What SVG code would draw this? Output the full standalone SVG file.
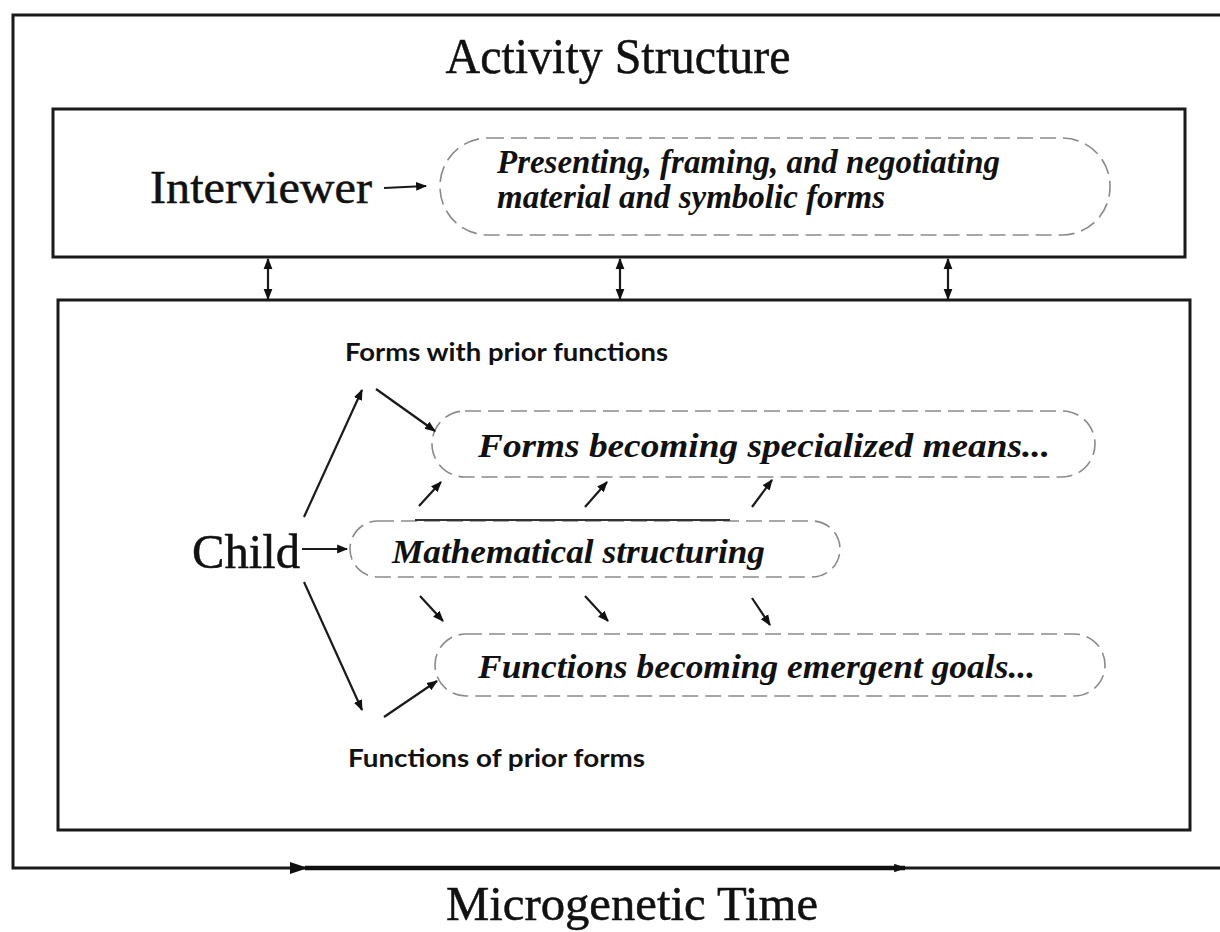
<svg xmlns="http://www.w3.org/2000/svg" width="1220" height="932" viewBox="0 0 1220 932">
<style>
.frame{fill:none;stroke:#1a1a1a;stroke-width:3}
.conn{fill:none;stroke:#1a1a1a;stroke-width:2.2}
.oval{fill:none;stroke:#8a8a8a;stroke-width:1.6;stroke-dasharray:16 7}
.serif{font-family:"Liberation Serif","Times New Roman",serif;fill:#111;stroke:#111;stroke-width:0.5}
.it{font-family:"Liberation Serif","Times New Roman",serif;font-style:italic;font-weight:bold;fill:#111}
.sans{font-family:"Lato","Open Sans","Liberation Sans",sans-serif;font-weight:bold;fill:#111}
</style>
<defs>
<marker id="ah" viewBox="0 0 10 10" refX="9" refY="5" markerWidth="11" markerHeight="11" orient="auto-start-reverse" markerUnits="userSpaceOnUse">
<path d="M0,1 L10,5 L0,9 z" fill="#111"/>
</marker>
<marker id="ahs" viewBox="0 0 10 10" refX="9" refY="5" markerWidth="12" markerHeight="12" orient="auto-start-reverse" markerUnits="userSpaceOnUse">
<path d="M0,1.5 L10,5 L0,8.5 z" fill="#111"/>
</marker>
</defs>

<g id="activity-structure">
<path class="frame" d="M1220,15 H13 V868 H1220"/>
<text class="serif" x="618" y="73" font-size="50" text-anchor="middle" textLength="345" lengthAdjust="spacingAndGlyphs">Activity Structure</text>
</g>

<g id="interviewer-box">
<rect class="frame" x="53" y="109" width="1132" height="148"/>
<text class="serif" x="150" y="203" font-size="46" textLength="222" lengthAdjust="spacingAndGlyphs">Interviewer</text>
</g>

<g id="interviewer-oval">
<rect class="oval" x="440" y="138" width="670" height="97" rx="48" ry="48"/>
<text class="it" x="497" y="173" font-size="33" textLength="503" lengthAdjust="spacingAndGlyphs">Presenting, framing, and negotiating</text>
<text class="it" x="497" y="208" font-size="33" textLength="388" lengthAdjust="spacingAndGlyphs">material and symbolic forms</text>
</g>

<g id="child-box">
<rect class="frame" x="58" y="300" width="1132" height="530"/>
<text class="serif" x="192" y="568" font-size="48" textLength="108" lengthAdjust="spacingAndGlyphs">Child</text>
</g>

<g id="forms-prior">
<text class="sans" x="345" y="361" font-size="24" textLength="323" lengthAdjust="spacingAndGlyphs">Forms with prior functions</text>
</g>

<g id="forms-becoming">
<rect class="oval" x="432" y="411" width="663" height="66" rx="33" ry="33"/>
<text class="it" x="478" y="457" font-size="34" textLength="572" lengthAdjust="spacingAndGlyphs">Forms becoming specialized means...</text>
</g>

<g id="math-structuring">
<rect class="oval" x="350" y="521" width="490" height="56" rx="28" ry="28"/>
<line x1="415" y1="520" x2="730" y2="520" stroke="#333" stroke-width="2"/>
<text class="it" x="392" y="563" font-size="33" textLength="373" lengthAdjust="spacingAndGlyphs">Mathematical structuring</text>
</g>

<g id="functions-becoming">
<rect class="oval" x="435" y="634" width="670" height="62" rx="31" ry="31"/>
<text class="it" x="478" y="678" font-size="34" textLength="557" lengthAdjust="spacingAndGlyphs">Functions becoming emergent goals...</text>
</g>

<g id="functions-prior">
<text class="sans" x="348" y="767" font-size="24" textLength="297" lengthAdjust="spacingAndGlyphs">Functions of prior forms</text>
</g>

<g id="time-axis">
<line x1="305" y1="868" x2="905" y2="868" stroke="#111" stroke-width="4.5" marker-end="url(#ahs)"/>
<path d="M290,862 L308,868 L290,874 z" fill="#111"/>
<text class="serif" x="632" y="920" font-size="48" text-anchor="middle" textLength="372" lengthAdjust="spacingAndGlyphs">Microgenetic Time</text>
</g>

<g id="connectors">
<line class="conn" x1="384" y1="188" x2="426" y2="186" marker-end="url(#ah)"/>
<line class="conn" x1="268" y1="259" x2="268" y2="299" stroke-width="3" marker-start="url(#ah)" marker-end="url(#ah)"/>
<line class="conn" x1="620" y1="259" x2="620" y2="299" stroke-width="3" marker-start="url(#ah)" marker-end="url(#ah)"/>
<line class="conn" x1="948" y1="259" x2="948" y2="299" stroke-width="3" marker-start="url(#ah)" marker-end="url(#ah)"/>
<line class="conn" x1="302" y1="549" x2="347" y2="549" marker-end="url(#ah)"/>
<line class="conn" x1="304" y1="517" x2="362" y2="390" marker-end="url(#ah)"/>
<line class="conn" x1="376" y1="389" x2="435" y2="431" marker-end="url(#ah)"/>
<line class="conn" x1="304" y1="582" x2="362" y2="710" marker-end="url(#ah)"/>
<line class="conn" x1="384" y1="717" x2="437" y2="681" marker-end="url(#ah)"/>
<line class="conn" x1="419" y1="506" x2="441" y2="482" marker-end="url(#ah)"/>
<line class="conn" x1="585" y1="507" x2="607" y2="482" marker-end="url(#ah)"/>
<line class="conn" x1="752" y1="507" x2="772" y2="480" marker-end="url(#ah)"/>
<line class="conn" x1="420" y1="596" x2="443" y2="621" marker-end="url(#ah)"/>
<line class="conn" x1="585" y1="596" x2="608" y2="621" marker-end="url(#ah)"/>
<line class="conn" x1="752" y1="598" x2="770" y2="625" marker-end="url(#ah)"/>
</g>
</svg>
